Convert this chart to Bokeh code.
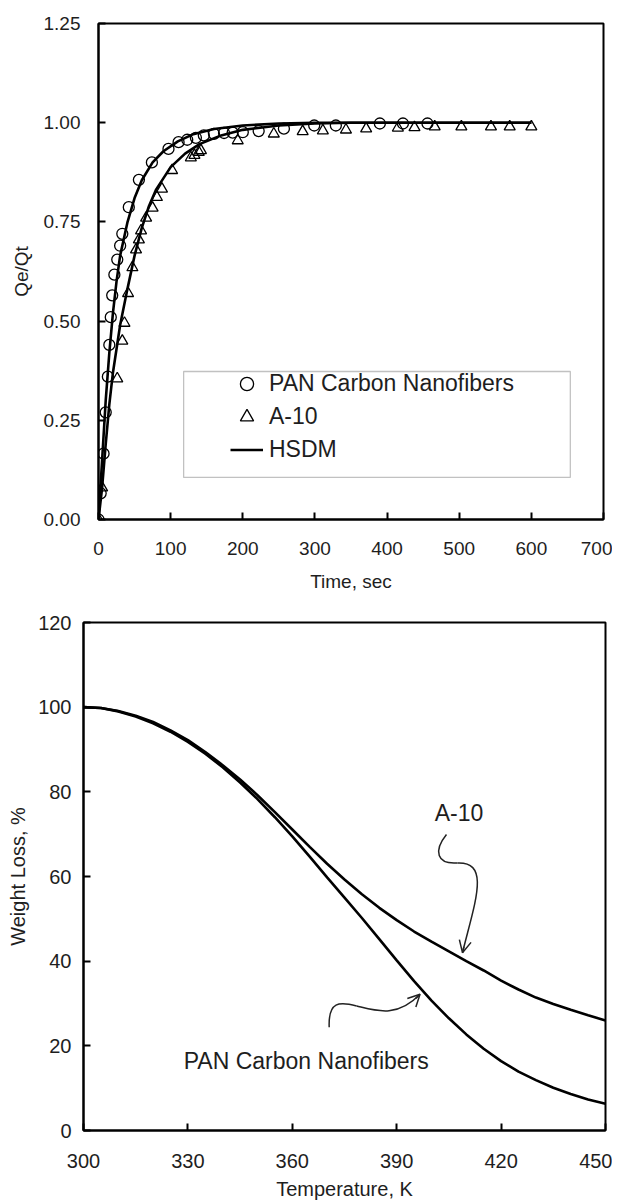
from bokeh.plotting import figure
from bokeh.models import (Range1d, FixedTicker, NumeralTickFormatter, Legend, LegendItem,
                          BoxAnnotation, Arrow, OpenHead)
from bokeh.core.properties import value
from bokeh.embed import file_html
from bokeh.resources import INLINE

FONT = "Liberation Sans"
TXT = "#1e1e1e"

# ---------------- Top chart data (Qe/Qt vs time) ----------------
pan_t = [0, 3, 7, 10, 13, 15, 17, 19, 22, 26, 30, 33, 42, 56, 74, 97, 111, 123, 135, 146,
         160, 174, 186, 200, 222, 257, 299, 329, 390, 422, 456]
pan_q = [0.0, 0.066, 0.166, 0.27, 0.36, 0.44, 0.51, 0.565, 0.617, 0.655, 0.69, 0.72, 0.787,
         0.856, 0.90, 0.934, 0.951, 0.957, 0.962, 0.968, 0.972, 0.974, 0.975, 0.976, 0.979,
         0.985, 0.993, 0.993, 0.998, 0.998, 0.998]

a10_t = [0, 5, 26, 33, 36, 41, 47, 52, 56, 59, 66, 75, 81, 88, 102, 128, 133, 139, 142, 193,
         243, 283, 311, 343, 371, 415, 438, 466, 503, 544, 570, 600]
a10_q = [0.0, 0.08, 0.355, 0.45, 0.495, 0.57, 0.635, 0.68, 0.705, 0.728, 0.76, 0.785, 0.812,
         0.833, 0.88, 0.912, 0.918, 0.926, 0.93, 0.955, 0.972, 0.978, 0.98, 0.982, 0.985,
         0.987, 0.988, 0.99, 0.99, 0.99, 0.99, 0.99]

hsdm_pan_t = [0, 5, 10, 15, 20, 25, 30, 40, 50, 60, 75, 90, 110, 130, 160, 200, 250, 300, 600]
hsdm_pan_q = [0.0, 0.15, 0.30, 0.42, 0.52, 0.60, 0.665, 0.748, 0.81, 0.855, 0.90, 0.928,
              0.953, 0.97, 0.984, 0.993, 0.998, 1.0, 1.0]
hsdm_a10_t = [0, 5, 10, 15, 20, 30, 40, 50, 60, 70, 80, 100, 120, 140, 170, 200, 250, 300, 350, 600]
hsdm_a10_q = [0.0, 0.08, 0.19, 0.29, 0.37, 0.49, 0.58, 0.665, 0.735, 0.79, 0.832, 0.888,
              0.922, 0.946, 0.968, 0.982, 0.993, 0.998, 1.0, 1.0]

top_xticks = [0, 100, 200, 300, 400, 500, 600, 700]
top_yticks = [0.0, 0.25, 0.5, 0.75, 1.0, 1.25]

# ---------------- Bottom chart data (weight loss vs T) ----------------
temp_k = [300, 305, 310, 315, 320, 325, 330, 335, 340, 345, 350, 355, 360, 365, 370, 375,
          380, 385, 390, 395, 400, 405, 410, 415, 420, 425, 430, 435, 440, 445, 450]
wl_pan = [100, 99.8, 99.0, 97.8, 96.2, 94.2, 91.8, 89.0, 85.8, 82.2, 78.3, 74.0, 69.5, 64.7,
          59.8, 55.0, 50.2, 45.2, 40.2, 35.3, 30.7, 26.5, 22.7, 19.3, 16.4, 13.9, 11.9, 10.1,
          8.6, 7.3, 6.3]
wl_a10 = [100, 99.8, 99.1, 98.0, 96.5, 94.5, 92.2, 89.4, 86.3, 82.9, 79.2, 75.2, 71.1, 67.0,
          63.0, 59.3, 55.8, 52.6, 49.7, 47.0, 44.6, 42.3, 40.0, 37.8, 35.4, 33.3, 31.4, 29.9,
          28.5, 27.2, 26.0]

bot_xticks = [300, 330, 360, 390, 420, 450]
bot_yticks = [0, 20, 40, 60, 80, 100, 120]

# annotation labels / pointer curves (data coords of the bottom chart)
ann_labels = ["A-10", "PAN Carbon Nanofibers"]
ann_x = [407.9, 328.8]
ann_y = [75.1, 16.5]
# bezier segments: x0, y0, x1, y1, cx0, cy0, cx1, cy1
bz_x0 = [404.3, 407.5, 370.6, 378.5]
bz_y0 = [69.9, 63.2, 24.4, 29.4]
bz_x1 = [407.5, 408.9, 378.5, 396.7]
bz_y1 = [63.2, 42.0, 29.4, 32.2]
bz_cx0 = [400.5, 417.0, 370.3, 384.0]
bz_cy0 = [66.0, 63.5, 30.5, 28.3]
bz_cx1 = [401.5, 412.5, 373.5, 390.0]
bz_cy1 = [62.8, 54.0, 30.5, 26.5]


def style(p, xticks, yticks, fs, ystand, xstand, ylab_stand, xlab_stand):
    p.outline_line_color = "black"
    p.outline_line_width = 2
    p.outline_line_alpha = 1
    p.xgrid.visible = False
    p.ygrid.visible = False
    p.background_fill_color = "white"
    p.border_fill_color = "white"
    p.xaxis.ticker = FixedTicker(ticks=xticks)
    p.yaxis.ticker = FixedTicker(ticks=yticks)
    for ax in (p.xaxis[0], p.yaxis[0]):
        ax.axis_line_color = "black"
        ax.axis_line_width = 2
        ax.major_tick_line_color = "black"
        ax.major_tick_line_width = 2
        ax.major_tick_in = 7
        ax.major_tick_out = 0
        ax.minor_tick_line_color = None
        ax.major_label_text_font = FONT
        ax.major_label_text_font_size = fs
        ax.major_label_text_color = TXT
        ax.axis_label_text_font = FONT
        ax.axis_label_text_font_size = fs
        ax.axis_label_text_font_style = "normal"
        ax.axis_label_text_color = TXT
    p.yaxis[0].major_label_standoff = ystand
    p.xaxis[0].major_label_standoff = xstand
    p.yaxis[0].axis_label_standoff = ylab_stand
    p.xaxis[0].axis_label_standoff = xlab_stand


# ---------------- Top figure ----------------
p1 = figure(width=612, height=598, x_range=Range1d(0, 700), y_range=Range1d(0, 1.25),
            output_backend="svg", toolbar_location=None,
            min_border_left=98, min_border_right=9, min_border_top=23, min_border_bottom=79,
            x_axis_label="Time, sec", y_axis_label="Qe/Qt")
style(p1, top_xticks, top_yticks, "19px", 18, 22, 9, 13)
p1.yaxis[0].formatter = NumeralTickFormatter(format="0.00")

l1 = p1.line(hsdm_pan_t, hsdm_pan_q, line_color="black", line_width=2.6)
p1.line(hsdm_a10_t, hsdm_a10_q, line_color="black", line_width=2.6)
c1 = p1.scatter(pan_t, pan_q, marker="circle", size=11, line_color="black",
                line_width=1.3, fill_color=None)
t1 = p1.scatter(a10_t, a10_q, marker="triangle", size=11, line_color="black",
                line_width=1.3, fill_color=None)

p1.add_layout(BoxAnnotation(left=118, right=654, bottom=0.106, top=0.373,
                            fill_color=None, fill_alpha=0, line_color="#333333",
                            line_width=1.3))
leg = Legend(items=[LegendItem(label="PAN Carbon Nanofibers", renderers=[c1]),
                    LegendItem(label="A-10", renderers=[t1]),
                    LegendItem(label="HSDM", renderers=[l1])],
             location=(132, 53), margin=0, padding=0, spacing=0,
             glyph_width=33, glyph_height=33, label_height=33, label_standoff=6,
             label_text_font=FONT, label_text_font_size="23px", label_text_color=TXT,
             border_line_color=None, background_fill_alpha=0)
p1.add_layout(leg)

# ---------------- Bottom figure ----------------
p2 = figure(width=612, height=604, x_range=Range1d(300, 450), y_range=Range1d(0, 120),
            output_backend="svg", toolbar_location=None,
            min_border_left=83, min_border_right=7, min_border_top=24, min_border_bottom=70,
            x_axis_label="Temperature, K", y_axis_label="Weight Loss, %")
style(p2, bot_xticks, bot_yticks, "20px", 12, 23, 6, 7)

p2.line(temp_k, wl_pan, line_color="black", line_width=2.6)
p2.line(temp_k, wl_a10, line_color="black", line_width=2.6)

p2.text(ann_x, ann_y, text=ann_labels, text_font=value(FONT), text_font_size="23px",
        text_color=TXT, text_align=["center", "left"], text_baseline="middle")
p2.bezier(x0=bz_x0, y0=bz_y0, x1=bz_x1, y1=bz_y1, cx0=bz_cx0, cy0=bz_cy0,
          cx1=bz_cx1, cy1=bz_cy1, line_color="#222222", line_width=1.5)
p2.add_layout(Arrow(end=OpenHead(size=12, line_width=1.5, line_color="#222222"),
                    x_start=409.3, y_start=43.4, x_end=bz_x1[1], y_end=bz_y1[1],
                    line_color="#222222", line_width=1.5))
p2.add_layout(Arrow(end=OpenHead(size=12, line_width=1.5, line_color="#222222"),
                    x_start=395.5, y_start=31.2, x_end=bz_x1[3], y_end=bz_y1[3],
                    line_color="#222222", line_width=1.5))

# two independent roots, stacked, so the frames keep their own left borders
open("out.html", "w").write(file_html([p1, p2], INLINE))
